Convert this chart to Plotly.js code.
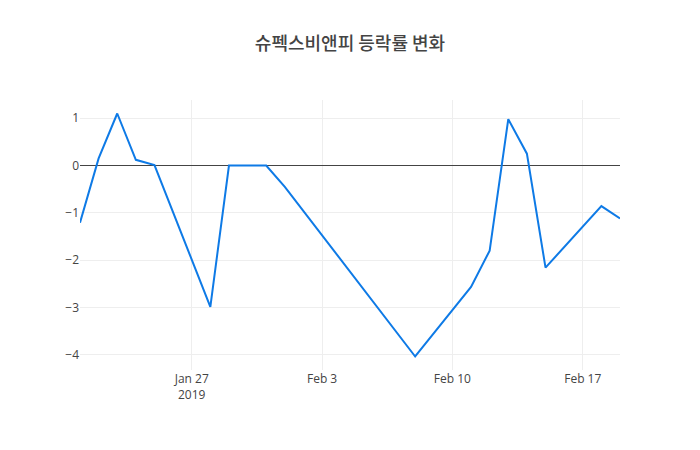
<!DOCTYPE html>
<html>
<head>
<meta charset="utf-8">
<script src="https://cdn.plot.ly/plotly-3.0.1.min.js"></script>
<style>html,body{margin:0;padding:0;background:#fff;}</style>
</head>
<body>
<div id="chart" style="width:700px;height:450px;"></div>
<script>
var dates = ["2019-01-21","2019-01-22","2019-01-23","2019-01-24","2019-01-25",
             "2019-01-28","2019-01-29","2019-01-30","2019-01-31","2019-02-01",
             "2019-02-08","2019-02-11","2019-02-12","2019-02-13","2019-02-14",
             "2019-02-15","2019-02-18","2019-02-19"];
var changes = [-1.21, 0.15, 1.10, 0.12, 0.01,
               -2.99, 0.0, 0.0, 0.0, -0.45,
               -4.04, -2.57, -1.80, 0.98, 0.25,
               -2.16, -0.86, -1.12];
var titleText = "슈펙스비앤피 등락률 변화";

Plotly.newPlot("chart", [{
  x: dates,
  y: changes,
  type: "scatter",
  mode: "lines",
  line: {color: "#0e7ae6", width: 2}
}], {
  width: 700,
  height: 450,
  title: {text: titleText, font: {family: "Noto Sans CJK KR, Open Sans, sans-serif", size: 18, color: "#444", weight: 500}},
  font: {family: "Open Sans, sans-serif", color: "#444"},
  xaxis: {type: "date", showgrid: true, gridcolor: "#eee"},
  yaxis: {showgrid: true, gridcolor: "#eee", zeroline: true, zerolinecolor: "#444", zerolinewidth: 1},
  paper_bgcolor: "#fff",
  plot_bgcolor: "#fff",
  margin: {l: 80, r: 80, t: 100, b: 80}
}, {displayModeBar: false});
</script>
</body>
</html>
